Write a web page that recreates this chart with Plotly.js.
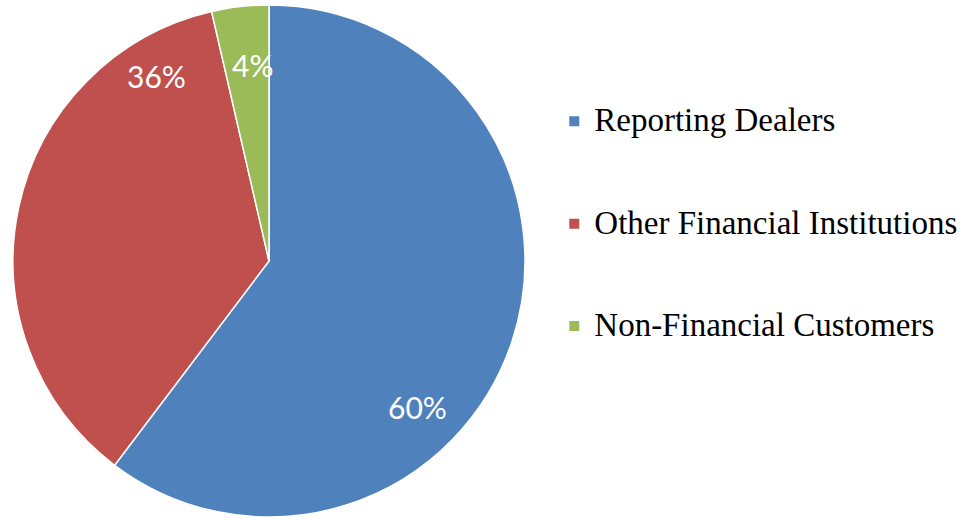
<!DOCTYPE html>
<html><head><meta charset="utf-8">
<script src="https://cdn.plot.ly/plotly-3.0.1.min.js"></script>
<style>html,body{margin:0;padding:0;background:#fff}#chart{width:964px;height:518px}</style>
</head><body><div id="chart"></div>
<script>
const categories = ["Reporting Dealers", "Other Financial Institutions", "Non-Financial Customers"];
const shares = [60.3, 36.1, 3.6];
const colors = ["#4F81BD", "#C0504D", "#9BBB59"];
// label anchor spots (paper fractions) for the percentage texts
const labelSpots = [[0.4326, 0.2134], [0.1623, 0.8533], [0.2615, 0.8745]];

const total = shares.reduce((a, b) => a + b, 0);

const trace = {
  type: "pie",
  labels: categories.map(c => "<br><span style='font-size:33px'>" + c + "</span><br> "),
  values: shares,
  sort: false,
  direction: "clockwise",
  rotation: 0,
  marker: {colors: colors, line: {color: "#ffffff", width: 1.5}},
  textinfo: "none",
  hoverinfo: "percent",
  domain: {x: [13/964, 525/964], y: [1/518, 513/518]}
};

const annotations = shares.map((v, i) => ({
  xref: "paper", yref: "paper",
  x: labelSpots[i][0], y: labelSpots[i][1],
  xanchor: "center", yanchor: "middle",
  text: Math.round(v / total * 100) + "%",
  showarrow: false,
  font: {family: "Lato, 'Open Sans', sans-serif", size: 30, color: "#ffffff"}
}));

const layout = {
  width: 964, height: 518,
  margin: {l: 0, r: 0, t: 0, b: 0},
  paper_bgcolor: "#ffffff",
  showlegend: true,
  annotations: annotations,
  legend: {
    x: 0.575, y: 0.5676, xanchor: "left", yanchor: "middle",
    font: {family: "'Liberation Serif', 'DejaVu Serif', serif", size: 25.5, color: "#000000"},
    itemsizing: "constant", tracegroupgap: 0
  }
};

Plotly.newPlot("chart", [trace], layout, {displayModeBar: false});
</script></body></html>
